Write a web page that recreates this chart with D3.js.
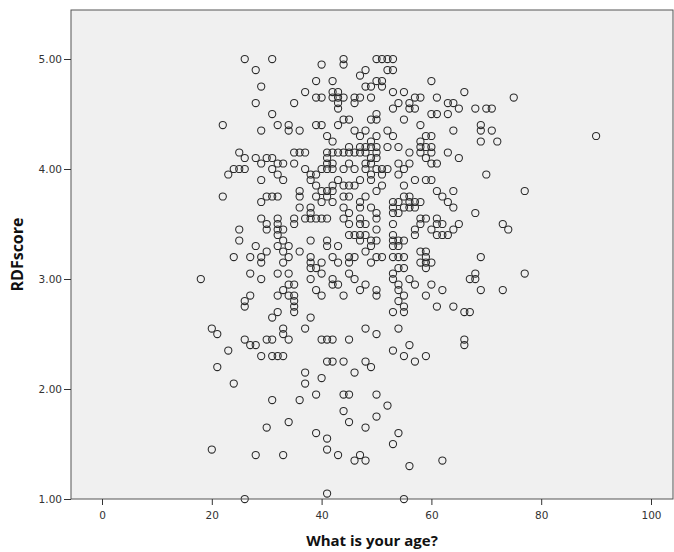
<!DOCTYPE html>
<html>
<head>
<meta charset="utf-8">
<script src="https://cdn.jsdelivr.net/npm/d3@7"></script>
<style>
  html, body { margin: 0; padding: 0; background: #ffffff; }
  svg { display: block; }
</style>
</head>
<body>
<svg id="chart" width="674" height="552"></svg>
<script>
// ---- data ----
const ages = [
  26,31,44,50,51,52,53,                       // 5.00
  40,44,                                      // 4.95
  28,48,52,53,                                // 4.90
  47,                                         // 4.85
  39,42,50,51,60,                             // 4.80
  29,48,49,51,                                // 4.75
  37,42,43,53,55,66,                          // 4.70
  39,40,42,43,44,46,47,49,57,58,61,75,        // 4.65
  28,35,43,46,54,56,63,64,                    // 4.60
  43,53,56,57,65,68,70,71,                    // 4.55
  31,50,60,61,63,                             // 4.50
  44,45,49,50,55,                             // 4.45
  22,32,34,39,40,43,58,69,                    // 4.40
  29,34,36,46,48,52,64,69,71,                 // 4.35
  41,47,50,53,59,60,90,                       // 4.30
  42,49,58,69,72,                             // 4.25
  45,47,48,49,50,52,54,58,59,60,              // 4.20
  25,35,36,37,41,42,43,44,45,46,47,48,50,56,58,60,63, // 4.15
  26,28,30,31,41,49,50,59,65,                 // 4.10
  29,32,33,35,41,42,45,48,49,54,56,60,61,     // 4.05
  24,25,26,31,37,40,41,42,44,46,48,50,51,52,55, // 4.00
  23,32,38,39,49,51,54,70,                    // 3.95
  29,33,38,43,47,49,57,59,60,                 // 3.90
  39,42,44,45,46,51,55,                       // 3.85
  36,40,41,42,50,61,64,77,                    // 3.80
  22,30,31,32,36,39,41,44,45,48,55,56,62,     // 3.75
  29,40,42,47,53,54,56,57,58,63,              // 3.70
  36,38,44,47,49,53,55,56,57,64,              // 3.65
  38,45,50,53,54,68,                          // 3.60
  29,32,35,37,38,39,40,41,44,47,50,58,59,61,  // 3.55
  30,32,35,45,47,48,53,58,61,62,65,73,        // 3.50
  25,30,32,33,50,57,60,64,74,                 // 3.45
  32,45,46,47,48,53,57,61,62,63,              // 3.40
  25,33,38,41,47,49,50,53,54,55,              // 3.35
  28,32,34,41,43,49,53,54,                    // 3.30
  30,33,36,48,58,59,                          // 3.25
  24,27,29,34,38,42,45,46,50,51,53,54,55,59,69, // 3.20
  29,33,38,40,43,45,49,58,59,60,              // 3.15
  38,39,54,55,59,                             // 3.10
  27,32,34,40,45,53,68,77,                    // 3.05
  18,29,38,42,46,53,56,67,68,                 // 3.00
  34,35,42,43,48,54,57,60,                    // 2.95
  33,39,47,50,54,62,69,73,                    // 2.90
  27,32,34,35,40,44,50,55,59,                 // 2.85
  26,35,54,                                   // 2.80
  26,35,55,61,64,                             // 2.75
  32,35,53,55,66,67,                          // 2.70
  31,38,                                      // 2.65
  20,33,37,48,54,                             // 2.55
  21,33,50,                                   // 2.50
  26,30,31,34,40,41,42,45,66,                 // 2.45
  27,28,56,66,                                // 2.40
  23,53,                                      // 2.35
  29,31,32,33,55,59,                          // 2.30
  41,42,44,48,57,                             // 2.25
  21,49,                                      // 2.20
  37,46,                                      // 2.15
  40,                                         // 2.10
  24,37,                                      // 2.05
  39,44,45,50,                                // 1.95
  31,36,                                      // 1.90
  52,                                         // 1.85
  44,                                         // 1.80
  50,                                         // 1.75
  34,45,                                      // 1.70
  30,48,                                      // 1.65
  39,54,                                      // 1.60
  41,                                         // 1.55
  53,                                         // 1.50
  20,41,                                      // 1.45
  28,33,43,47,                                // 1.40
  46,48,62,                                   // 1.35
  56,                                         // 1.30
  41,                                         // 1.05
  26,55                                       // 1.00
];
const scores = [
  5.00,5.00,5.00,5.00,5.00,5.00,5.00,
  4.95,4.95,
  4.90,4.90,4.90,4.90,
  4.85,
  4.80,4.80,4.80,4.80,4.80,
  4.75,4.75,4.75,4.75,
  4.70,4.70,4.70,4.70,4.70,4.70,
  4.65,4.65,4.65,4.65,4.65,4.65,4.65,4.65,4.65,4.65,4.65,4.65,
  4.60,4.60,4.60,4.60,4.60,4.60,4.60,4.60,
  4.55,4.55,4.55,4.55,4.55,4.55,4.55,4.55,
  4.50,4.50,4.50,4.50,4.50,
  4.45,4.45,4.45,4.45,4.45,
  4.40,4.40,4.40,4.40,4.40,4.40,4.40,4.40,
  4.35,4.35,4.35,4.35,4.35,4.35,4.35,4.35,4.35,
  4.30,4.30,4.30,4.30,4.30,4.30,4.30,
  4.25,4.25,4.25,4.25,4.25,
  4.20,4.20,4.20,4.20,4.20,4.20,4.20,4.20,4.20,4.20,
  4.15,4.15,4.15,4.15,4.15,4.15,4.15,4.15,4.15,4.15,4.15,4.15,4.15,4.15,4.15,4.15,4.15,
  4.10,4.10,4.10,4.10,4.10,4.10,4.10,4.10,4.10,
  4.05,4.05,4.05,4.05,4.05,4.05,4.05,4.05,4.05,4.05,4.05,4.05,4.05,
  4.00,4.00,4.00,4.00,4.00,4.00,4.00,4.00,4.00,4.00,4.00,4.00,4.00,4.00,4.00,
  3.95,3.95,3.95,3.95,3.95,3.95,3.95,3.95,
  3.90,3.90,3.90,3.90,3.90,3.90,3.90,3.90,3.90,
  3.85,3.85,3.85,3.85,3.85,3.85,3.85,
  3.80,3.80,3.80,3.80,3.80,3.80,3.80,3.80,
  3.75,3.75,3.75,3.75,3.75,3.75,3.75,3.75,3.75,3.75,3.75,3.75,3.75,
  3.70,3.70,3.70,3.70,3.70,3.70,3.70,3.70,3.70,3.70,
  3.65,3.65,3.65,3.65,3.65,3.65,3.65,3.65,3.65,3.65,
  3.60,3.60,3.60,3.60,3.60,3.60,
  3.55,3.55,3.55,3.55,3.55,3.55,3.55,3.55,3.55,3.55,3.55,3.55,3.55,3.55,
  3.50,3.50,3.50,3.50,3.50,3.50,3.50,3.50,3.50,3.50,3.50,3.50,
  3.45,3.45,3.45,3.45,3.45,3.45,3.45,3.45,3.45,
  3.40,3.40,3.40,3.40,3.40,3.40,3.40,3.40,3.40,3.40,
  3.35,3.35,3.35,3.35,3.35,3.35,3.35,3.35,3.35,3.35,
  3.30,3.30,3.30,3.30,3.30,3.30,3.30,3.30,
  3.25,3.25,3.25,3.25,3.25,3.25,
  3.20,3.20,3.20,3.20,3.20,3.20,3.20,3.20,3.20,3.20,3.20,3.20,3.20,3.20,3.20,
  3.15,3.15,3.15,3.15,3.15,3.15,3.15,3.15,3.15,3.15,
  3.10,3.10,3.10,3.10,3.10,
  3.05,3.05,3.05,3.05,3.05,3.05,3.05,3.05,
  3.00,3.00,3.00,3.00,3.00,3.00,3.00,3.00,3.00,
  2.95,2.95,2.95,2.95,2.95,2.95,2.95,2.95,
  2.90,2.90,2.90,2.90,2.90,2.90,2.90,2.90,
  2.85,2.85,2.85,2.85,2.85,2.85,2.85,2.85,2.85,
  2.80,2.80,2.80,
  2.75,2.75,2.75,2.75,2.75,
  2.70,2.70,2.70,2.70,2.70,2.70,
  2.65,2.65,
  2.55,2.55,2.55,2.55,2.55,
  2.50,2.50,2.50,
  2.45,2.45,2.45,2.45,2.45,2.45,2.45,2.45,2.45,
  2.40,2.40,2.40,2.40,
  2.35,2.35,
  2.30,2.30,2.30,2.30,2.30,2.30,
  2.25,2.25,2.25,2.25,2.25,
  2.20,2.20,
  2.15,2.15,
  2.10,
  2.05,2.05,
  1.95,1.95,1.95,1.95,
  1.90,1.90,
  1.85,
  1.80,
  1.75,
  1.70,1.70,
  1.65,1.65,
  1.60,1.60,
  1.55,
  1.50,
  1.45,1.45,
  1.40,1.40,1.40,1.40,
  1.35,1.35,1.35,
  1.30,
  1.05,
  1.00,1.00
];
const xTicks = [0, 20, 40, 60, 80, 100];
const yTicks = [1, 2, 3, 4, 5];
const xTitle = "What is your age?";
const yTitle = "RDFscore";

// ---- layout ----
const svg = d3.select("#chart");
const plot = { left: 71, top: 10, right: 673, bottom: 499 };

const x = d3.scaleLinear().domain([0, 100]).range([102, 651]);
const y = d3.scaleLinear().domain([1, 5]).range([plot.bottom, 59]);

// background
svg.append("rect")
  .attr("x", plot.left).attr("y", plot.top)
  .attr("width", plot.right - plot.left)
  .attr("height", plot.bottom - plot.top)
  .attr("fill", "#f0f0f0");

// points
const pts = ages.map((a, i) => ({ a, s: scores[i] }));
svg.append("g")
  .selectAll("circle")
  .data(pts)
  .enter().append("circle")
  .attr("cx", d => x(d.a))
  .attr("cy", d => y(d.s))
  .attr("r", 3.6)
  .attr("fill", "none")
  .attr("stroke", "#2a2a2a")
  .attr("stroke-width", 1.05);

// frame
svg.append("rect")
  .attr("x", plot.left).attr("y", plot.top)
  .attr("width", plot.right - plot.left)
  .attr("height", plot.bottom - plot.top)
  .attr("fill", "none")
  .attr("stroke", "#555")
  .attr("stroke-width", 1);

// axes
const xAxis = d3.axisBottom(x).tickValues(xTicks).tickFormat(d3.format("d")).tickSize(6).tickSizeOuter(0);
const yAxis = d3.axisLeft(y).tickValues(yTicks).tickFormat(d3.format(".2f")).tickSize(7).tickSizeOuter(0);

const gx = svg.append("g").attr("transform", `translate(0,${plot.bottom})`).call(xAxis);
const gy = svg.append("g").attr("transform", `translate(${plot.left},0)`).call(yAxis);
[gx, gy].forEach(g => {
  g.select(".domain").remove();
  g.selectAll(".tick line").attr("stroke", "#333");
  g.selectAll(".tick text")
    .attr("fill", "#333")
    .style("font-family", "DejaVu Sans, sans-serif")
    .style("font-size", "10.5px");
});
gx.selectAll(".tick text").attr("dy", "1.05em");
gy.selectAll(".tick text").attr("x", -9);

// titles
svg.append("text")
  .attr("x", (plot.left + plot.right) / 2)
  .attr("y", 546)
  .attr("text-anchor", "middle")
  .style("font-family", "Open Sans, sans-serif")
  .style("font-weight", "bold")
  .style("font-size", "15px")
  .attr("fill", "#111")
  .text(xTitle);

svg.append("text")
  .attr("transform", `translate(23,${(plot.top + plot.bottom) / 2}) rotate(-90)`)
  .attr("text-anchor", "middle")
  .style("font-family", "Open Sans, sans-serif")
  .style("font-weight", "bold")
  .style("font-size", "16px")
  .attr("fill", "#111")
  .text(yTitle);
</script>
</body>
</html>
